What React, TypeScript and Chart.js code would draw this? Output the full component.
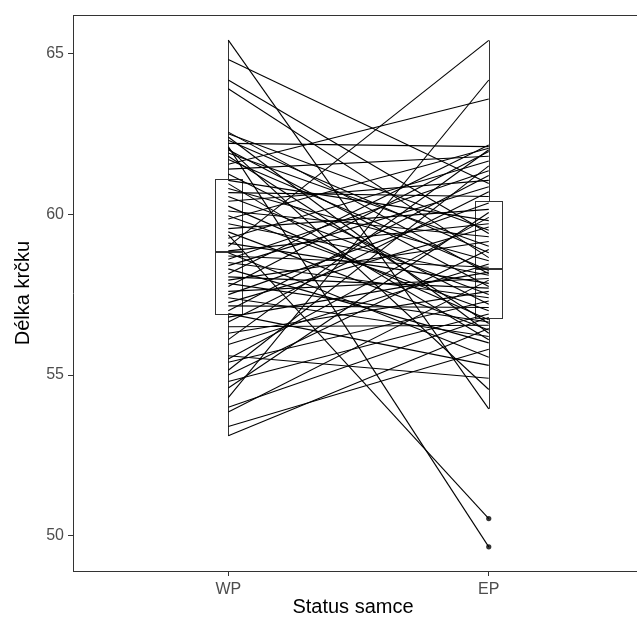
import React, { useEffect, useRef } from "react";
import { Chart, registerables } from "chart.js";

Chart.register(...registerables);

// Categories (x axis) and paired measurements (one entry per male, WP value -> EP value)
const categories = ["WP", "EP"];

const wpValues = [
  65.41, 64.81, 64.17, 63.9, 62.2, 62.1, 61.55, 59.36, 59.0, 54.3, 54.0, 53.11,
  53.4, 53.85, 54.6, 54.8, 55.0, 55.15, 55.4, 55.5, 55.6, 55.95, 56.1, 56.3,
  56.5, 56.65, 56.8, 56.91, 57.0, 57.15, 57.25, 57.4, 57.5, 57.6, 57.75, 57.85,
  57.95, 58.05, 58.15, 58.3, 58.4, 58.5, 58.6, 58.7, 58.8, 58.86, 59.1, 59.25,
  59.45, 59.55, 59.7, 59.85, 59.95, 60.1, 60.25, 60.4, 60.55, 60.67, 60.8, 60.95,
  61.05, 61.25, 61.4, 61.7, 61.8, 61.9, 62.0, 62.05, 62.3, 62.4, 62.5, 62.55,
];

const epValues = [
  53.95, 60.95, 59.4, 58.65, 62.1, 49.66, 63.58, 50.54, 65.4, 64.17, 56.79, 56.45,
  55.8, 57.95, 60.05, 56.9, 58.9, 61.5, 57.3, 59.9, 54.9, 58.45, 62.0, 57.6,
  56.55, 60.7, 58.2, 55.3, 61.2, 57.1, 59.6, 56.2, 60.35, 58.0, 61.95, 56.65,
  59.15, 57.7, 62.15, 56.0, 60.85, 57.4, 61.35, 58.35, 55.55, 59.7, 57.85, 61.65,
  56.4, 60.15, 58.1, 62.05, 57.0, 59.3, 56.72, 61.05, 57.5, 60.55, 58.55, 56.1,
  59.8, 57.2, 61.8, 58.25, 56.6, 59.0, 57.75, 54.55, 58.8, 56.3, 59.5, 58.15,
];

const yTicks = [50, 55, 60, 65];
const xTitle = "Status samce";
const yTitle = "Délka krčku";

const FONT = "'Liberation Sans', Arial, Helvetica, sans-serif";
const AXIS_COLOR = "#333333";

function quantile(sorted: number[], p: number) {
  const h = (sorted.length - 1) * p;
  const lo = Math.floor(h);
  const hi = Math.ceil(h);
  return sorted[lo] + (h - lo) * (sorted[hi] - sorted[lo]);
}

function boxStats(values: number[]) {
  const s = [...values].sort((a, b) => a - b);
  const q1 = quantile(s, 0.25);
  const med = quantile(s, 0.5);
  const q3 = quantile(s, 0.75);
  const iqr = q3 - q1;
  const lowFence = q1 - 1.5 * iqr;
  const highFence = q3 + 1.5 * iqr;
  const inside = s.filter((v) => v >= lowFence && v <= highFence);
  const outliers = s.filter((v) => v < lowFence || v > highFence);
  return { q1, med, q3, lo: inside[0], hi: inside[inside.length - 1], outliers };
}

const groups = [wpValues, epValues];
const stats = groups.map(boxStats);

const boxPlugin = {
  id: "boxPlugin",
  beforeDatasetsDraw(chart: any) {
    const { ctx, scales } = chart;
    const xs = scales.x;
    const ys = scales.y;
    const half = 0.052;
    ctx.save();
    stats.forEach((st, gi) => {
      const cx = gi + 1;
      const xc = Math.round(xs.getPixelForValue(cx)) + 0.5;
      const xl = Math.round(xs.getPixelForValue(cx - half)) + 0.5;
      const xr = Math.round(xs.getPixelForValue(cx + half)) + 0.5;
      const yq1 = Math.round(ys.getPixelForValue(st.q1)) + 0.5;
      const yq3 = Math.round(ys.getPixelForValue(st.q3)) + 0.5;
      const ymed = Math.round(ys.getPixelForValue(st.med));
      const ylo = ys.getPixelForValue(st.lo);
      const yhi = ys.getPixelForValue(st.hi);
      ctx.strokeStyle = AXIS_COLOR;
      ctx.lineWidth = 1;
      ctx.beginPath();
      ctx.moveTo(xc, yhi);
      ctx.lineTo(xc, yq3);
      ctx.moveTo(xc, yq1);
      ctx.lineTo(xc, ylo);
      ctx.stroke();
      ctx.fillStyle = "#ffffff";
      ctx.fillRect(xl, yq3, xr - xl, yq1 - yq3);
      ctx.strokeRect(xl, yq3, xr - xl, yq1 - yq3);
      ctx.lineWidth = 2;
      ctx.beginPath();
      ctx.moveTo(xl, ymed);
      ctx.lineTo(xr, ymed);
      ctx.stroke();
    });
    ctx.restore();
  },
  afterDraw(chart: any) {
    // panel frame lines (top and bottom) extend to the canvas edge
    const { ctx, chartArea } = chart;
    const w = ctx.canvas.width;
    ctx.save();
    ctx.strokeStyle = AXIS_COLOR;
    ctx.lineWidth = 1;
    ctx.beginPath();
    const yt = Math.round(chartArea.top) + 0.5;
    const yb = Math.round(chartArea.bottom) + 0.5;
    ctx.moveTo(chartArea.left, yt);
    ctx.lineTo(w, yt);
    ctx.moveTo(chartArea.left, yb);
    ctx.lineTo(w, yb);
    ctx.stroke();
    ctx.restore();
  },
};

export default function App() {
  const canvasRef = useRef<HTMLCanvasElement | null>(null);

  useEffect(() => {
    const canvas = canvasRef.current;
    if (!canvas) return;

    const pairDatasets = wpValues.map((wp, i) => ({
      type: "line" as const,
      data: [
        { x: 1, y: wp },
        { x: 2, y: epValues[i] },
      ],
      borderColor: "#000000",
      borderWidth: 1.1,
      pointRadius: 0,
      fill: false,
      tension: 0,
    }));

    const outlierData: { x: number; y: number }[] = [];
    stats.forEach((st, gi) => st.outliers.forEach((v) => outlierData.push({ x: gi + 1, y: v })));

    const chart = new Chart(canvas, {
      type: "scatter",
      data: {
        datasets: [
          ...pairDatasets,
          {
            type: "scatter" as const,
            data: outlierData,
            pointRadius: 2.6,
            pointBackgroundColor: AXIS_COLOR,
            pointBorderWidth: 0,
            showLine: false,
          },
        ] as any,
      },
      options: {
        responsive: false,
        animation: false,
        events: [],
        layout: { padding: { top: 15, left: 0, right: 0, bottom: 0 } },
        plugins: { legend: { display: false }, tooltip: { enabled: false } },
        scales: {
          x: {
            type: "linear",
            min: 0.4038,
            max: 2.5538,
            afterBuildTicks: (s: any) => {
              s.ticks = categories.map((_, i) => ({ value: i + 1 }));
            },
            afterFit: (s: any) => {
              s.height = 49;
            },
            grid: {
              display: true,
              drawOnChartArea: false,
              drawTicks: true,
              tickLength: 5,
              color: AXIS_COLOR,
            },
            border: { display: false },
            ticks: {
              autoSkip: false,
              maxRotation: 0,
              padding: 4,
              color: "#4d4d4d",
              font: { family: FONT, size: 16 },
              callback: (v: any) => categories[Math.round(Number(v)) - 1] ?? "",
            },
            title: {
              display: true,
              text: xTitle,
              color: "#000000",
              font: { family: FONT, size: 20 },
              padding: { top: 1, bottom: 1 },
            },
          },
          y: {
            type: "linear",
            min: 48.91,
            max: 66.19,
            afterBuildTicks: (s: any) => {
              s.ticks = yTicks.map((v) => ({ value: v }));
            },
            afterFit: (s: any) => {
              s.width = 73;
            },
            grid: {
              display: true,
              drawOnChartArea: false,
              drawTicks: true,
              tickLength: 5,
              color: AXIS_COLOR,
            },
            border: { display: true, color: AXIS_COLOR, width: 1 },
            ticks: {
              padding: 4,
              color: "#4d4d4d",
              font: { family: FONT, size: 16 },
              callback: (v: any) => String(v),
            },
            title: {
              display: true,
              text: yTitle,
              color: "#000000",
              font: { family: FONT, size: 20 },
              padding: { top: 11, bottom: 11 },
            },
          },
        },
      },
      plugins: [boxPlugin],
    });

    return () => chart.destroy();
  }, []);

  return (
    <div
      style={{
        position: "fixed",
        left: 0,
        top: 0,
        width: 637,
        height: 620,
        background: "#ffffff",
      }}
    >
      <canvas ref={canvasRef} width={637} height={620} style={{ display: "block" }} />
    </div>
  );
}
